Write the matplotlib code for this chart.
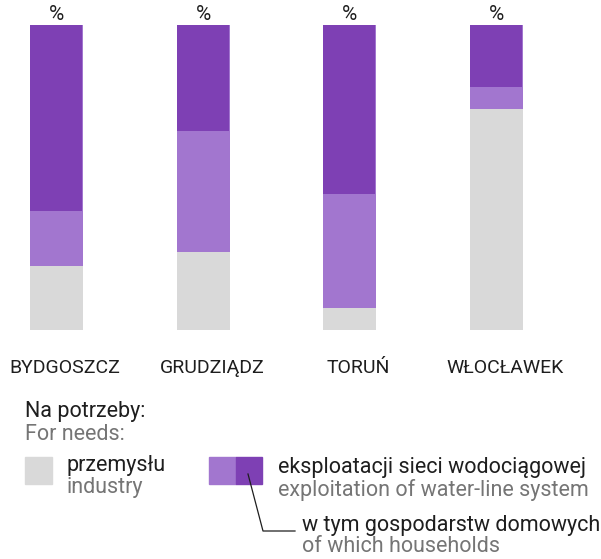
import matplotlib.pyplot as plt
from matplotlib.lines import Line2D
from matplotlib.patches import Rectangle

# udział poszczególnych zużyć wody, %
cities = ['BYDGOSZCZ', 'GRUDZIĄDZ', 'TORUŃ', 'WŁOCŁAWEK']
industry = [21.0, 25.6, 7.2, 72.5]
water_system = [79.0, 74.4, 92.8, 27.5]
households = [61.0, 34.8, 55.4, 20.3]

grey = '#d9d9d9'
light = '#a276cf'
dark = '#7e40b4'
sub = '#757575'
ink = '#1e1e1e'

plt.rcParams['font.family'] = ['Roboto', 'DejaVu Sans']

fig = plt.figure(figsize=(6.01, 5.59), dpi=100)
ax = fig.add_axes([0, 1 - 330 / 559, 1, 305 / 559])

x = list(range(len(cities)))
w = 0.361
left = [i - w / 2 for i in x]
ax.bar(left, industry, width=w, align='edge', color=grey)
ax.bar(left, water_system, width=w, align='edge', bottom=industry, color=light)
hh_bottom = [100 - h for h in households]
ax.bar(left, households, width=w * 0.98, align='edge', bottom=hh_bottom, color=dark)

for i, c in zip(x, cities):
    ax.text(i, 103.6, '%', ha='center', va='center', fontsize=15, color=ink)
    ax.text(i + 0.06, -12.5, c, ha='center', va='center', fontsize=14, color=ink)

ax.set_xlim(-56.5 / 146.67, (601 - 56.5) / 146.67)
ax.set_ylim(0, 100)
ax.axis('off')

def fy(py):
    return 1 - py / 559

def fx(px):
    return px / 601

fs = 15.5
fig.text(fx(25), fy(412), 'Na potrzeby:', fontsize=fs, color=ink, va='center')
fig.text(fx(25), fy(434), 'For needs:', fontsize=fs, color=sub, va='center')

fig.patches.append(Rectangle((fx(25), fy(484)), fx(27), 27 / 559, color=grey, transform=fig.transFigure))
fig.patches.append(Rectangle((fx(209), fy(484)), fx(27), 27 / 559, color=light, transform=fig.transFigure))
fig.patches.append(Rectangle((fx(236), fy(484)), fx(26), 27 / 559, color=dark, transform=fig.transFigure))

fig.text(fx(67), fy(466), 'przemysłu', fontsize=fs, color=ink, va='center')
fig.text(fx(67), fy(488), 'industry', fontsize=fs, color=sub, va='center')
fig.text(fx(278), fy(468), 'eksploatacji sieci wodociągowej', fontsize=fs, color=ink, va='center')
fig.text(fx(278), fy(490), 'exploitation of water-line system', fontsize=fs, color=sub, va='center')
fig.text(fx(302), fy(525), 'w tym gospodarstw domowych', fontsize=fs, color=ink, va='center')
fig.text(fx(302), fy(547), 'of which households', fontsize=fs, color=sub, va='center')

fig.lines.append(Line2D([fx(248), fx(263), fx(295)], [fy(474), fy(531), fy(531)],
                        color=ink, lw=0.9, transform=fig.transFigure))

fig.savefig('out.png', dpi=100)
